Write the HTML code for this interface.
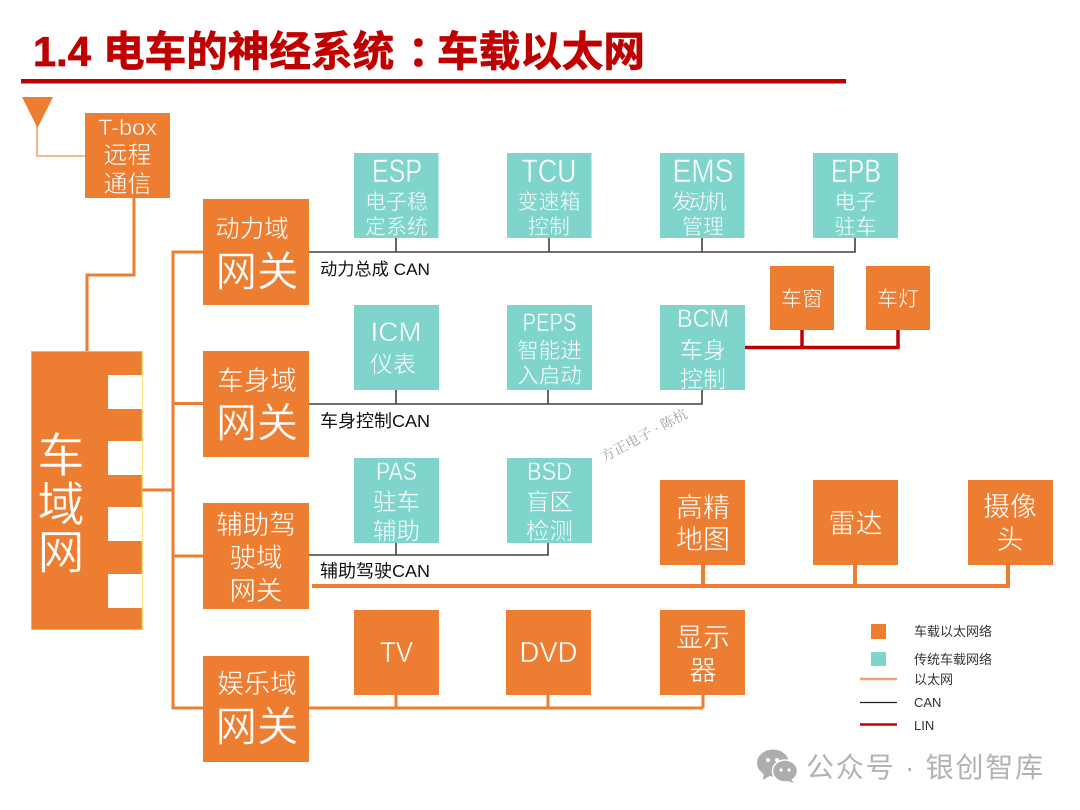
<!DOCTYPE html>
<html lang="zh"><head><meta charset="utf-8"><title>车载以太网</title>
<style>
html,body{margin:0;padding:0;background:#fff}
svg{display:block}
text{font-family:"Liberation Sans","Noto Sans CJK SC",sans-serif}
.w text{fill:#fff;text-anchor:middle;stroke-width:.45}
.wo text{stroke:#ED7D31}
.wt text{stroke:#7FD5CB}
.o{fill:#ED7D31}.t{fill:#7FD5CB}
.e{stroke:#ED7D31;fill:none}
.c{stroke:#404040;stroke-width:1.6;fill:none}
.k{fill:#111}
</style></head><body>
<svg width="1080" height="810" viewBox="0 0 1080 810" xmlns="http://www.w3.org/2000/svg">
<rect width="1080" height="810" fill="#fff"/>
<g font-size="41.6" font-weight="700" fill="#C00000" stroke="#C00000" stroke-width=".7">
<text x="33" y="66">1.4</text>
<text x="103" y="66">电车的神经系统</text>
<text x="408" y="66">：</text>
<text x="437" y="66">车载以太网</text>
</g>
<rect x="21" y="79" width="825" height="4.500" fill="#C00000"/>

<!-- connectors -->
<path d="M37 125V156H85" stroke="#F0A070" stroke-width="1.600" fill="none"/>
<path class="e" stroke-width="3" d="M134 198V275H87V351"/>
<path class="e" stroke-width="3" d="M142 490H173M203 252H173V708H203M173 403.500H203M173 556H203"/>
<path class="e" stroke-width="3" d="M309 708H703M396 694V708M548 694V708M703 694V708"/>
<path class="e" stroke-width="4" d="M312 586H1008V564M703 564V586M855 564V586"/>
<path class="c" d="M309 252H855V238M396 238V252M549 238V252M702 238V252"/>
<path class="c" d="M309 404H702V390M396 390V404M548 390V404"/>
<path class="c" d="M309 555H548V543M396 543V555"/>
<path d="M744 347.500H898V330M802 330V347.500" stroke="#C00000" stroke-width="3.500" fill="none"/>

<polygon class="o" points="22,97 53,97 37.500,128"/>

<!-- left block -->
<rect x="31.500" y="351.500" width="110.500" height="278" fill="#ED7D31" stroke="#FFC000" stroke-width="1"/>
<rect x="108" y="375" width="34" height="34" fill="#fff"/>
<rect x="108" y="441" width="34" height="34" fill="#fff"/>
<rect x="108" y="507" width="34" height="34" fill="#fff"/>
<rect x="108" y="574" width="34" height="34" fill="#fff"/>

<!-- boxes -->
<rect class="o" x="85" y="113" width="85" height="85"/>
<rect class="o" x="203" y="199" width="106" height="106"/>
<rect class="o" x="203" y="351" width="106" height="106"/>
<rect class="o" x="203" y="503" width="106" height="106"/>
<rect class="o" x="203" y="656" width="106" height="106"/>
<rect class="t" x="354" y="153" width="84.500" height="85"/>
<rect class="t" x="507" y="153" width="84.500" height="85"/>
<rect class="t" x="660" y="153" width="84.500" height="85"/>
<rect class="t" x="813" y="153" width="85" height="85"/>
<rect class="t" x="354" y="305" width="85" height="85"/>
<rect class="t" x="507" y="305" width="85" height="85"/>
<rect class="t" x="660" y="305" width="85" height="85"/>
<rect class="t" x="354" y="458" width="85" height="85"/>
<rect class="t" x="507" y="458" width="85" height="85"/>
<rect class="o" x="770" y="266" width="64" height="64"/>
<rect class="o" x="866" y="266" width="64" height="64"/>
<rect class="o" x="660" y="480" width="85" height="85"/>
<rect class="o" x="813" y="480" width="85" height="85"/>
<rect class="o" x="968" y="480" width="85" height="85"/>
<rect class="o" x="354" y="610" width="85" height="85"/>
<rect class="o" x="506" y="610" width="85" height="85"/>
<rect class="o" x="660" y="610" width="85" height="85"/>

<g class="w wo">
<text x="127.500" y="135" font-size="22" textLength="59" lengthAdjust="spacingAndGlyphs">T-box</text>
<text x="127.500" y="163" font-size="24">远程</text>
<text x="127.500" y="192" font-size="24">通信</text>
<text x="61" y="472" font-size="47">车</text>
<text x="61" y="521" font-size="47">域</text>
<text x="61" y="569" font-size="47">网</text>

<text x="252" y="237" font-size="24.500">动力域</text>
<text x="257" y="286" font-size="41.500">网关</text>
<text x="257" y="390" font-size="26.500">车身域</text>
<text x="257" y="437" font-size="41">网关</text>
<text x="256" y="534" font-size="26.500">辅助驾</text>
<text x="256" y="567" font-size="26.500">驶域</text>
<text x="256" y="600" font-size="26.500">网关</text>
<text x="257" y="693" font-size="26.500">娱乐域</text>
<text x="257" y="741" font-size="41.500">网关</text>

<text x="802" y="306" font-size="21">车窗</text>
<text x="898" y="306" font-size="21">车灯</text>
<text x="703" y="517" font-size="27">高精</text>
<text x="703" y="549" font-size="27">地图</text>
<text x="855.500" y="533" font-size="27">雷达</text>
<text x="1010" y="516" font-size="27">摄像</text>
<text x="1010" y="549" font-size="27">头</text>
<text x="396.500" y="662" font-size="29" textLength="33" lengthAdjust="spacingAndGlyphs">TV</text>
<text x="548.500" y="662" font-size="29" textLength="58" lengthAdjust="spacingAndGlyphs">DVD</text>
<text x="703" y="647" font-size="27">显示</text>
<text x="703" y="680" font-size="27">器</text>
</g>

<g class="w wt">
<text x="397" y="182" font-size="32" textLength="50" lengthAdjust="spacingAndGlyphs">ESP</text>
<text x="396.500" y="209" font-size="21">电子稳</text>
<text x="396.500" y="234" font-size="21">定系统</text>
<text x="549" y="182" font-size="32" textLength="55" lengthAdjust="spacingAndGlyphs">TCU</text>
<text x="549" y="209" font-size="21">变速箱</text>
<text x="549" y="234" font-size="21">控制</text>
<text x="703" y="182" font-size="32" textLength="61" lengthAdjust="spacingAndGlyphs">EMS</text>
<text x="697" y="209" font-size="21" letter-spacing="-4">发动机</text>
<text x="703" y="234" font-size="21">管理</text>
<text x="856" y="182" font-size="32" textLength="50" lengthAdjust="spacingAndGlyphs">EPB</text>
<text x="855.500" y="209" font-size="21">电子</text>
<text x="855.500" y="234" font-size="21">驻车</text>

<text x="396" y="341" font-size="27" textLength="51" lengthAdjust="spacingAndGlyphs">ICM</text>
<text x="393" y="372" font-size="23">仪表</text>
<text x="549.500" y="331" font-size="25" textLength="54" lengthAdjust="spacingAndGlyphs">PEPS</text>
<text x="549.500" y="358" font-size="21.500">智能进</text>
<text x="549.500" y="383" font-size="21.500">入启动</text>
<text x="703" y="327" font-size="25" textLength="52" lengthAdjust="spacingAndGlyphs">BCM</text>
<text x="703" y="358" font-size="23">车身</text>
<text x="703" y="387" font-size="23">控制</text>

<text x="396.500" y="480" font-size="25" textLength="41" lengthAdjust="spacingAndGlyphs">PAS</text>
<text x="396.500" y="510" font-size="23.500">驻车</text>
<text x="396.500" y="539" font-size="23.500">辅助</text>
<text x="549.500" y="480" font-size="25" textLength="45" lengthAdjust="spacingAndGlyphs">BSD</text>
<text x="549.500" y="510" font-size="23.500">盲区</text>
<text x="549.500" y="539" font-size="23.500">检测</text>
</g>

<text class="k" x="320" y="275" font-size="17" textLength="110" lengthAdjust="spacingAndGlyphs">动力总成 CAN</text>
<text class="k" x="320" y="427" font-size="17.500" textLength="110" lengthAdjust="spacingAndGlyphs">车身控制CAN</text>
<text class="k" x="320" y="577" font-size="17.500" textLength="110" lengthAdjust="spacingAndGlyphs">辅助驾驶CAN</text>

<text x="604" y="462" font-size="14" fill="#A0A0A0" transform="rotate(-28 604 462)" style="font-family:'Liberation Serif','Noto Serif CJK SC',serif">方正电子 · 陈杭</text>

<!-- legend -->
<rect class="o" x="871" y="624" width="15" height="15"/>
<rect class="t" x="871" y="652" width="15" height="14"/>
<path d="M860 679H897" stroke="#F0A070" stroke-width="2.500"/>
<path d="M860 702.500H897" stroke="#222" stroke-width="1.200"/>
<path d="M860 724.500H897" stroke="#C00000" stroke-width="2.500"/>
<g fill="#333" font-size="13">
<text x="914" y="636">车载以太网络</text>
<text x="914" y="664">传统车载网络</text>
<text x="914" y="684">以太网</text>
<text x="914" y="707">CAN</text>
<text x="914" y="730">LIN</text>
</g>

<!-- wechat mark -->
<ellipse cx="773" cy="763" rx="16" ry="13.500" fill="#ADADAD"/>
<polygon points="764,772 763,780 773,774" fill="#ADADAD"/>
<ellipse cx="785" cy="771" rx="12.500" ry="11" fill="#ADADAD" stroke="#fff" stroke-width="1.500"/>
<polygon points="790,778 794,783 784,780" fill="#ADADAD"/>
<circle cx="768" cy="760" r="2" fill="#fff"/><circle cx="777" cy="760" r="2" fill="#fff"/>
<circle cx="781" cy="770" r="1.600" fill="#fff"/><circle cx="789" cy="770" r="1.600" fill="#fff"/>
<text x="806" y="777" font-size="28" fill="#B2B2B2" letter-spacing="1.800">公众号 · 银创智库</text>
</svg>
</body></html>
